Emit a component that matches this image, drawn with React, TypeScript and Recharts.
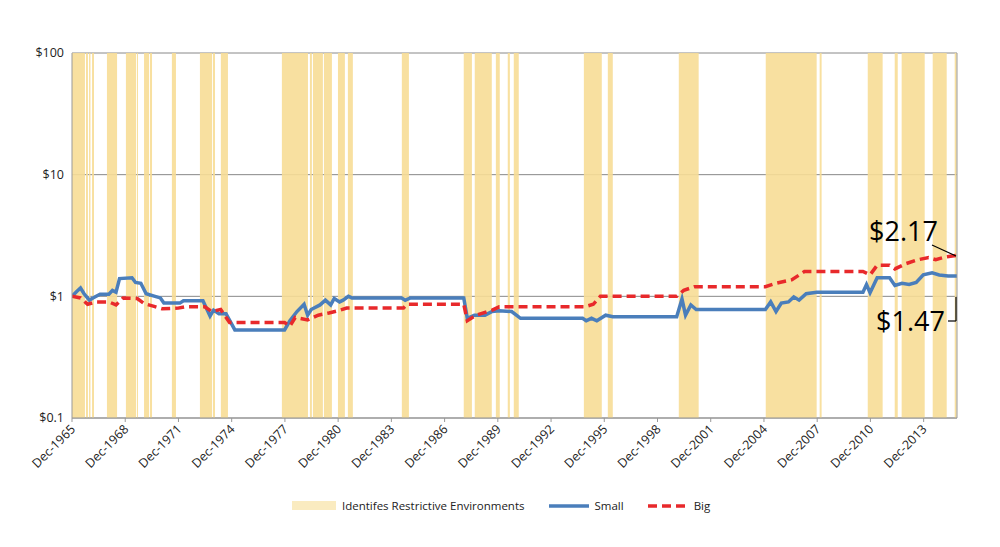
import React from "react";
import {
    ComposedChart, Line, XAxis, YAxis, CartesianGrid, ReferenceArea,
} from "recharts";

// restrictive environments, [start, end] in decimal years
const RESTRICTIVE: [number, number][] = [
    [1965.92, 1966.65], [1966.71, 1966.82], [1966.88, 1966.96], [1967.05, 1967.16],
    [1967.89, 1968.46], [1968.96, 1969.53], [1969.58, 1969.64], [1969.98, 1970.26],
    [1970.31, 1970.43], [1971.55, 1971.78], [1973.13, 1973.81], [1973.86, 1973.98],
    [1974.31, 1974.71], [1977.75, 1979.22], [1979.33, 1979.44], [1979.5, 1980.06],
    [1980.12, 1980.57], [1980.91, 1981.3], [1981.47, 1981.75], [1984.51, 1984.91],
    [1988.0, 1988.46], [1988.62, 1989.58], [1989.81, 1990.03], [1990.48, 1990.6],
    [1990.82, 1991.1], [1994.77, 1995.78], [1996.12, 1996.4], [2000.12, 2001.24],
    [2005.02, 2007.89], [2008.06, 2008.17], [2010.77, 2011.61], [2012.29, 2012.46],
    [2012.68, 2013.98], [2014.43, 2015.22], [2015.67, 2015.78],
];

const SMALL_YEARS = [
    1965.92, 1966.2, 1966.4, 1966.6, 1966.9, 1967.1, 1967.5, 1968.0, 1968.2, 1968.4, 1968.6,
    1969.3, 1969.5, 1969.8, 1970.1, 1970.6, 1970.9, 1971.1, 1972.0, 1972.2, 1973.3, 1973.7,
    1973.9, 1974.2, 1974.6, 1975.1, 1977.9, 1978.2, 1978.6, 1979.0, 1979.2, 1979.4, 1979.9,
    1980.2, 1980.5, 1980.7, 1981.0, 1981.2, 1981.5, 1981.7, 1984.5, 1984.7, 1985.0, 1988.0,
    1988.2, 1988.6, 1989.2, 1989.6, 1990.0, 1990.7, 1991.2, 1994.7, 1994.9, 1995.2, 1995.5,
    1996.0, 1996.4, 2000.0, 2000.3, 2000.5, 2000.8, 2001.1, 2005.0, 2005.3, 2005.6, 2005.9,
    2006.3, 2006.6, 2006.9, 2007.3, 2007.9, 2010.5, 2010.7, 2010.9, 2011.3, 2012.0, 2012.3,
    2012.7, 2013.1, 2013.5, 2013.9, 2014.4, 2014.8, 2015.3, 2015.8,
];
const SMALL_VALUES = [
    1.0, 1.1, 1.17, 1.05, 0.93, 0.97, 1.04, 1.04, 1.12, 1.08, 1.4,
    1.42, 1.3, 1.28, 1.05, 1.0, 0.97, 0.88, 0.88, 0.92, 0.92, 0.69,
    0.77, 0.72, 0.72, 0.53, 0.53, 0.63, 0.75, 0.86, 0.7, 0.78, 0.85,
    0.93, 0.85, 0.96, 0.9, 0.93, 1.0, 0.97, 0.97, 0.93, 0.97, 0.97,
    0.66, 0.7, 0.7, 0.75, 0.76, 0.75, 0.66, 0.66, 0.63, 0.66, 0.63,
    0.7, 0.68, 0.68, 0.95, 0.7, 0.85, 0.78, 0.78, 0.9, 0.75, 0.88,
    0.9, 0.99, 0.93, 1.05, 1.08, 1.08, 1.25, 1.07, 1.42, 1.42, 1.23,
    1.28, 1.25, 1.3, 1.5, 1.56, 1.5, 1.47, 1.47,
];

const BIG_YEARS = [
    1965.92, 1966.4, 1966.8, 1967.3, 1968.0, 1968.4, 1968.8, 1969.6, 1970.0, 1970.5, 1971.0,
    1971.9, 1972.3, 1973.4, 1973.8, 1974.3, 1974.8, 1977.9, 1978.2, 1978.5, 1979.2, 1979.8,
    1980.4, 1980.9, 1981.4, 1984.6, 1984.8, 1988.0, 1988.2, 1988.7, 1989.6, 1990.0, 1994.8,
    1995.3, 1995.7, 2000.0, 2000.4, 2001.0, 2005.0, 2005.6, 2006.5, 2007.2, 2010.5, 2010.9,
    2011.3, 2012.0, 2012.3, 2012.9, 2013.6, 2014.2, 2014.6, 2015.1, 2015.8,
];
const BIG_VALUES = [
    1.0, 0.97, 0.86, 0.9, 0.9, 0.85, 0.97, 0.96, 0.87, 0.83, 0.79,
    0.8, 0.82, 0.82, 0.75, 0.78, 0.61, 0.61, 0.57, 0.67, 0.64, 0.7,
    0.73, 0.76, 0.8, 0.8, 0.86, 0.86, 0.63, 0.7, 0.77, 0.82, 0.82,
    0.86, 1.0, 1.0, 1.12, 1.2, 1.2, 1.28, 1.37, 1.6, 1.6, 1.5,
    1.8, 1.8, 1.68, 1.85, 2.0, 2.08, 2.0, 2.1, 2.17,
];

const X_TICKS = [1965.92, 1968.92, 1971.92, 1974.92, 1977.92, 1980.92, 1983.92, 1986.92,
    1989.92, 1992.92, 1995.92, 1998.92, 2001.92, 2004.92, 2007.92, 2010.92, 2013.92];
const Y_TICKS = [0.1, 1, 10, 100];
const RIGHT_TICKS = [0, 1, 2, 3, 4, 5, 6, 7, 8, 9, 10];

const small = SMALL_YEARS.map((x, i) => ({ x, v: SMALL_VALUES[i] }));
const big = BIG_YEARS.map((x, i) => ({ x, v: BIG_VALUES[i] }));

const FONT = "'Open Sans', 'Liberation Sans', sans-serif";
const BAND = "#f7dd96";

function DateTick({ x, y, payload }: any) {
    return (
        <text x={x + 4} y={y + 6} transform={`rotate(-45 ${x + 4} ${y + 6})`} textAnchor="end"
            fontSize={12.5} fill="#222" fontFamily={FONT}>
            {`Dec-${Math.floor(payload.value)}`}
        </text>
    );
}

function RightTick({ x, y }: any) {
    return <line x1={x - 2} y1={y} x2={x + 3} y2={y} stroke="#999" strokeWidth={1} />;
}

export default function App() {
    return (
        <div style={{ position: "relative", width: 1000, height: 547, fontFamily: FONT }}>
            <ComposedChart width={1000} height={547} margin={{ top: 45, right: 41, bottom: 77, left: 9 }}>
                <CartesianGrid yAxisId="left" vertical={false} stroke="#888" strokeWidth={1} />
                <XAxis dataKey="x" type="number" domain={[1965.92, 2015.8]} ticks={X_TICKS} interval={0}
                    tick={<DateTick />} height={60} stroke="#999" tickSize={4} allowDataOverflow />
                <YAxis yAxisId="left" scale="log" domain={[0.1, 100]} ticks={Y_TICKS} allowDataOverflow
                    width={55} stroke="#999" tickLine={false} interval={0}
                    tick={{ fontSize: 12.5, fill: "#222", fontFamily: FONT }}
                    tickFormatter={(v: number) => `$${v}`} />
                <YAxis yAxisId="right" orientation="right" domain={[0, 10]} ticks={RIGHT_TICKS} interval={0}
                    width={10} stroke="#999" tickLine={false} tick={<RightTick />} />
                {RESTRICTIVE.map(([a, b], i) => (
                    <ReferenceArea key={i} yAxisId="left" x1={a} x2={b} y1={0.1} y2={100}
                        fill={BAND} fillOpacity={0.9} stroke="none" ifOverflow="hidden" />
                ))}
                <Line yAxisId="left" data={small} dataKey="v" type="linear" stroke="#4a7ebb"
                    strokeWidth={3.5} dot={false} isAnimationActive={false} />
                <Line yAxisId="left" data={big} dataKey="v" type="linear" stroke="#e8292b"
                    strokeWidth={3.5} strokeDasharray="9 5" dot={false} isAnimationActive={false} />
            </ComposedChart>

            {/* value callouts */}
            <svg width={1000} height={547} style={{ position: "absolute", left: 0, top: 0, pointerEvents: "none" }}>
                <line x1={924} y1={237} x2={948} y2={248} stroke="#000" strokeWidth={1.2} />
                <line x1={948} y1={289} x2={948} y2={313} stroke="#000" strokeWidth={1.2} />
                <line x1={940} y1={313} x2={948} y2={313} stroke="#000" strokeWidth={1.2} />
                <text x={861} y={233} fontSize={27} fontFamily={FONT} fill="#000">$2.17</text>
                <text x={868} y={323} fontSize={27} fontFamily={FONT} fill="#000">$1.47</text>
            </svg>

            {/* legend */}
            <div style={{ position: "absolute", top: 490, left: 284, display: "flex", alignItems: "center", fontSize: 11.5, color: "#222" }}>
                <span style={{ width: 44, height: 9, background: BAND, opacity: 0.6, marginRight: 6 }} />
                <span style={{ marginRight: 24 }}>Identifes Restrictive Environments</span>
                <svg width={40} height={10} style={{ marginRight: 6 }}>
                    <line x1={0} y1={5} x2={40} y2={5} stroke="#4a7ebb" strokeWidth={3.5} />
                </svg>
                <span style={{ marginRight: 24 }}>Small</span>
                <svg width={40} height={10} style={{ marginRight: 6 }}>
                    <line x1={0} y1={5} x2={40} y2={5} stroke="#e8292b" strokeWidth={3.5} strokeDasharray="9 5" />
                </svg>
                <span>Big</span>
            </div>
        </div>
    );
}
